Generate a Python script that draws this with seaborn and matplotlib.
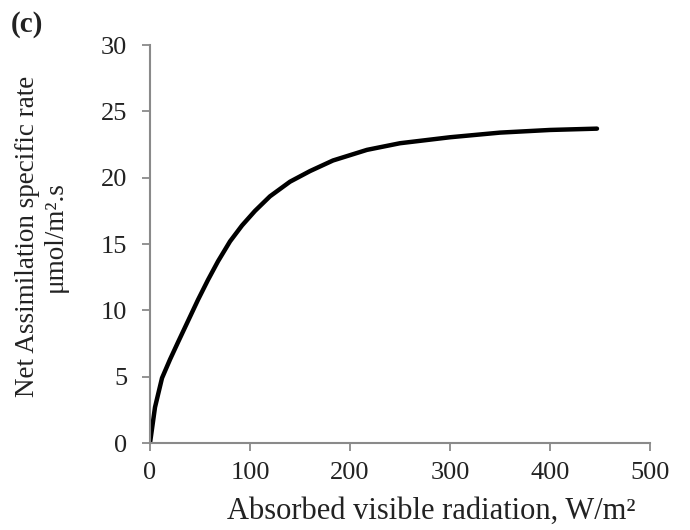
"""Net assimilation rate vs absorbed visible radiation (panel c)."""

import matplotlib
matplotlib.use("Agg")
import matplotlib.pyplot as plt
import pandas as pd
import seaborn as sns

# values
radiation = [0, 5, 12, 20, 28, 38, 48, 58, 68, 80, 92, 105, 120, 140, 160,
             183, 217, 250, 300, 350, 400, 447]
assimilation = [0, 2.7, 4.9, 6.3, 7.6, 9.2, 10.8, 12.3, 13.7, 15.2, 16.4, 17.5,
                18.6, 19.7, 20.5, 21.3, 22.1, 22.6, 23.05, 23.4, 23.6, 23.7]

x_ticks = [0, 100, 200, 300, 400, 500]
y_ticks = [0, 5, 10, 15, 20, 25, 30]

df = pd.DataFrame({"radiation": radiation, "assimilation": assimilation})

sns.set_theme(style="ticks")
plt.rcParams["font.family"] = ["Liberation Serif", "DejaVu Serif"]

fig = plt.figure(figsize=(6.9, 5.3), dpi=100)
ax = fig.add_axes([0.2174, 0.164, 0.7246, 0.751])

sns.lineplot(data=df, x="radiation", y="assimilation", ax=ax,
             color="black", linewidth=3.2, solid_capstyle="round",
             solid_joinstyle="round")

ax.set_xlim(0, 500)
ax.set_ylim(0, 30)
ax.set_xticks(x_ticks)
ax.set_yticks(y_ticks)
ax.tick_params(axis="both", labelsize=19, colors="#8a8a8a", labelcolor="#222222",
               length=5.5, width=1.3, direction="out")
ax.tick_params(axis="y", pad=11)
ax.tick_params(axis="x", pad=8)
for side in ["top", "right"]:
    ax.spines[side].set_visible(False)
for side in ["left", "bottom"]:
    ax.spines[side].set_color("#8a8a8a")
    ax.spines[side].set_linewidth(1.5)

ax.set_xlabel("Absorbed visible radiation, W/m²", fontsize=22, color="#222222", labelpad=9)
ax.xaxis.label.set_x(0.562)
ax.set_ylabel("Net Assimilation specific rate\nμmol/m².s", fontsize=19.5,
              color="#222222", labelpad=24, linespacing=1.1)
ax.yaxis.label.set_y(0.52)

fig.text(0.015, 0.953, "(c)", fontsize=21, fontweight="bold", color="#222222", va="center")

fig.savefig("out.png", dpi=100)
plt.close(fig)
